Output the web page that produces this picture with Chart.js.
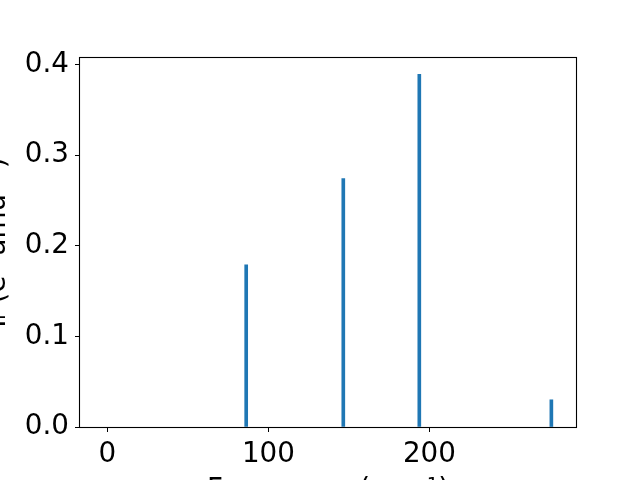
<!DOCTYPE html>
<html>
<head>
<meta charset="utf-8">
<script src="https://cdn.jsdelivr.net/npm/chart.js@4"></script>
<style>
  html, body { margin: 0; padding: 0; width: 640px; height: 480px; overflow: hidden; background: #fff; }
  #wrap { position: absolute; left: -40px; top: 0; width: 680px; height: 540px; }
</style>
</head>
<body>
<div id="wrap"><canvas id="irChart" width="680" height="540"></canvas></div>
<script>
// IR spectrum sticks
const frequencies = [86.2, 146.5, 193.7, 275.7];
const intensities = [0.179, 0.274, 0.389, 0.030];
const xTicks = [0, 100, 200];
const yTicks = [0.0, 0.1, 0.2, 0.3, 0.4];

const tickFont = { family: 'DejaVu Sans', size: 27.78 };

const framePlugin = {
  id: 'frame',
  afterDatasetsDraw(chart) {
    const { ctx, chartArea: a } = chart;
    ctx.save();
    ctx.strokeStyle = '#000';
    ctx.lineWidth = 1.1;
    ctx.strokeRect(Math.round(a.left) - 0.5, Math.round(a.top) - 0.5,
      Math.round(a.right - a.left) + 1, Math.round(a.bottom - a.top) + 1);
    ctx.restore();
  }
};

new Chart(document.getElementById('irChart'), {
  type: 'bar',
  data: {
    datasets: [{
      data: frequencies.map((f, i) => ({ x: f, y: intensities[i] })),
      backgroundColor: '#1f77b4',
      barThickness: 3
    }]
  },
  options: {
    responsive: false,
    animation: false,
    layout: { padding: { left: 0, right: 64, top: 58, bottom: 0 } },
    plugins: { legend: { display: false }, tooltip: { enabled: false } },
    scales: {
      x: {
        type: 'linear',
        offset: false,
        min: -17,
        max: 291,
        afterBuildTicks: s => { s.ticks = xTicks.map(v => ({ value: v })); },
        afterFit: s => { s.height = 113; },
        grid: { offset: false, drawOnChartArea: false, tickLength: 5, tickColor: '#000' },
        border: { display: false },
        ticks: { color: '#000', font: tickFont, padding: 6, maxRotation: 0 },
        title: {
          display: true,
          text: 'Frequency (cm⁻¹)',
          color: '#000',
          font: tickFont,
          padding: { top: 0, bottom: 33 }
        }
      },
      y: {
        min: 0,
        max: 0.407,
        afterBuildTicks: s => { s.ticks = yTicks.map(v => ({ value: v })); },
        afterFit: s => { s.width = 120; },
        grid: { drawOnChartArea: false, tickLength: 5, tickColor: '#000' },
        border: { display: false },
        ticks: { color: '#000', font: tickFont, padding: 6, callback: v => v.toFixed(1) },
        title: {
          display: true,
          text: 'Iᵣ (e² amu⁻¹)',
          color: '#000',
          font: tickFont,
          padding: { top: 21, bottom: 0 }
        }
      }
    }
  },
  plugins: [framePlugin]
});
</script>
</body>
</html>
